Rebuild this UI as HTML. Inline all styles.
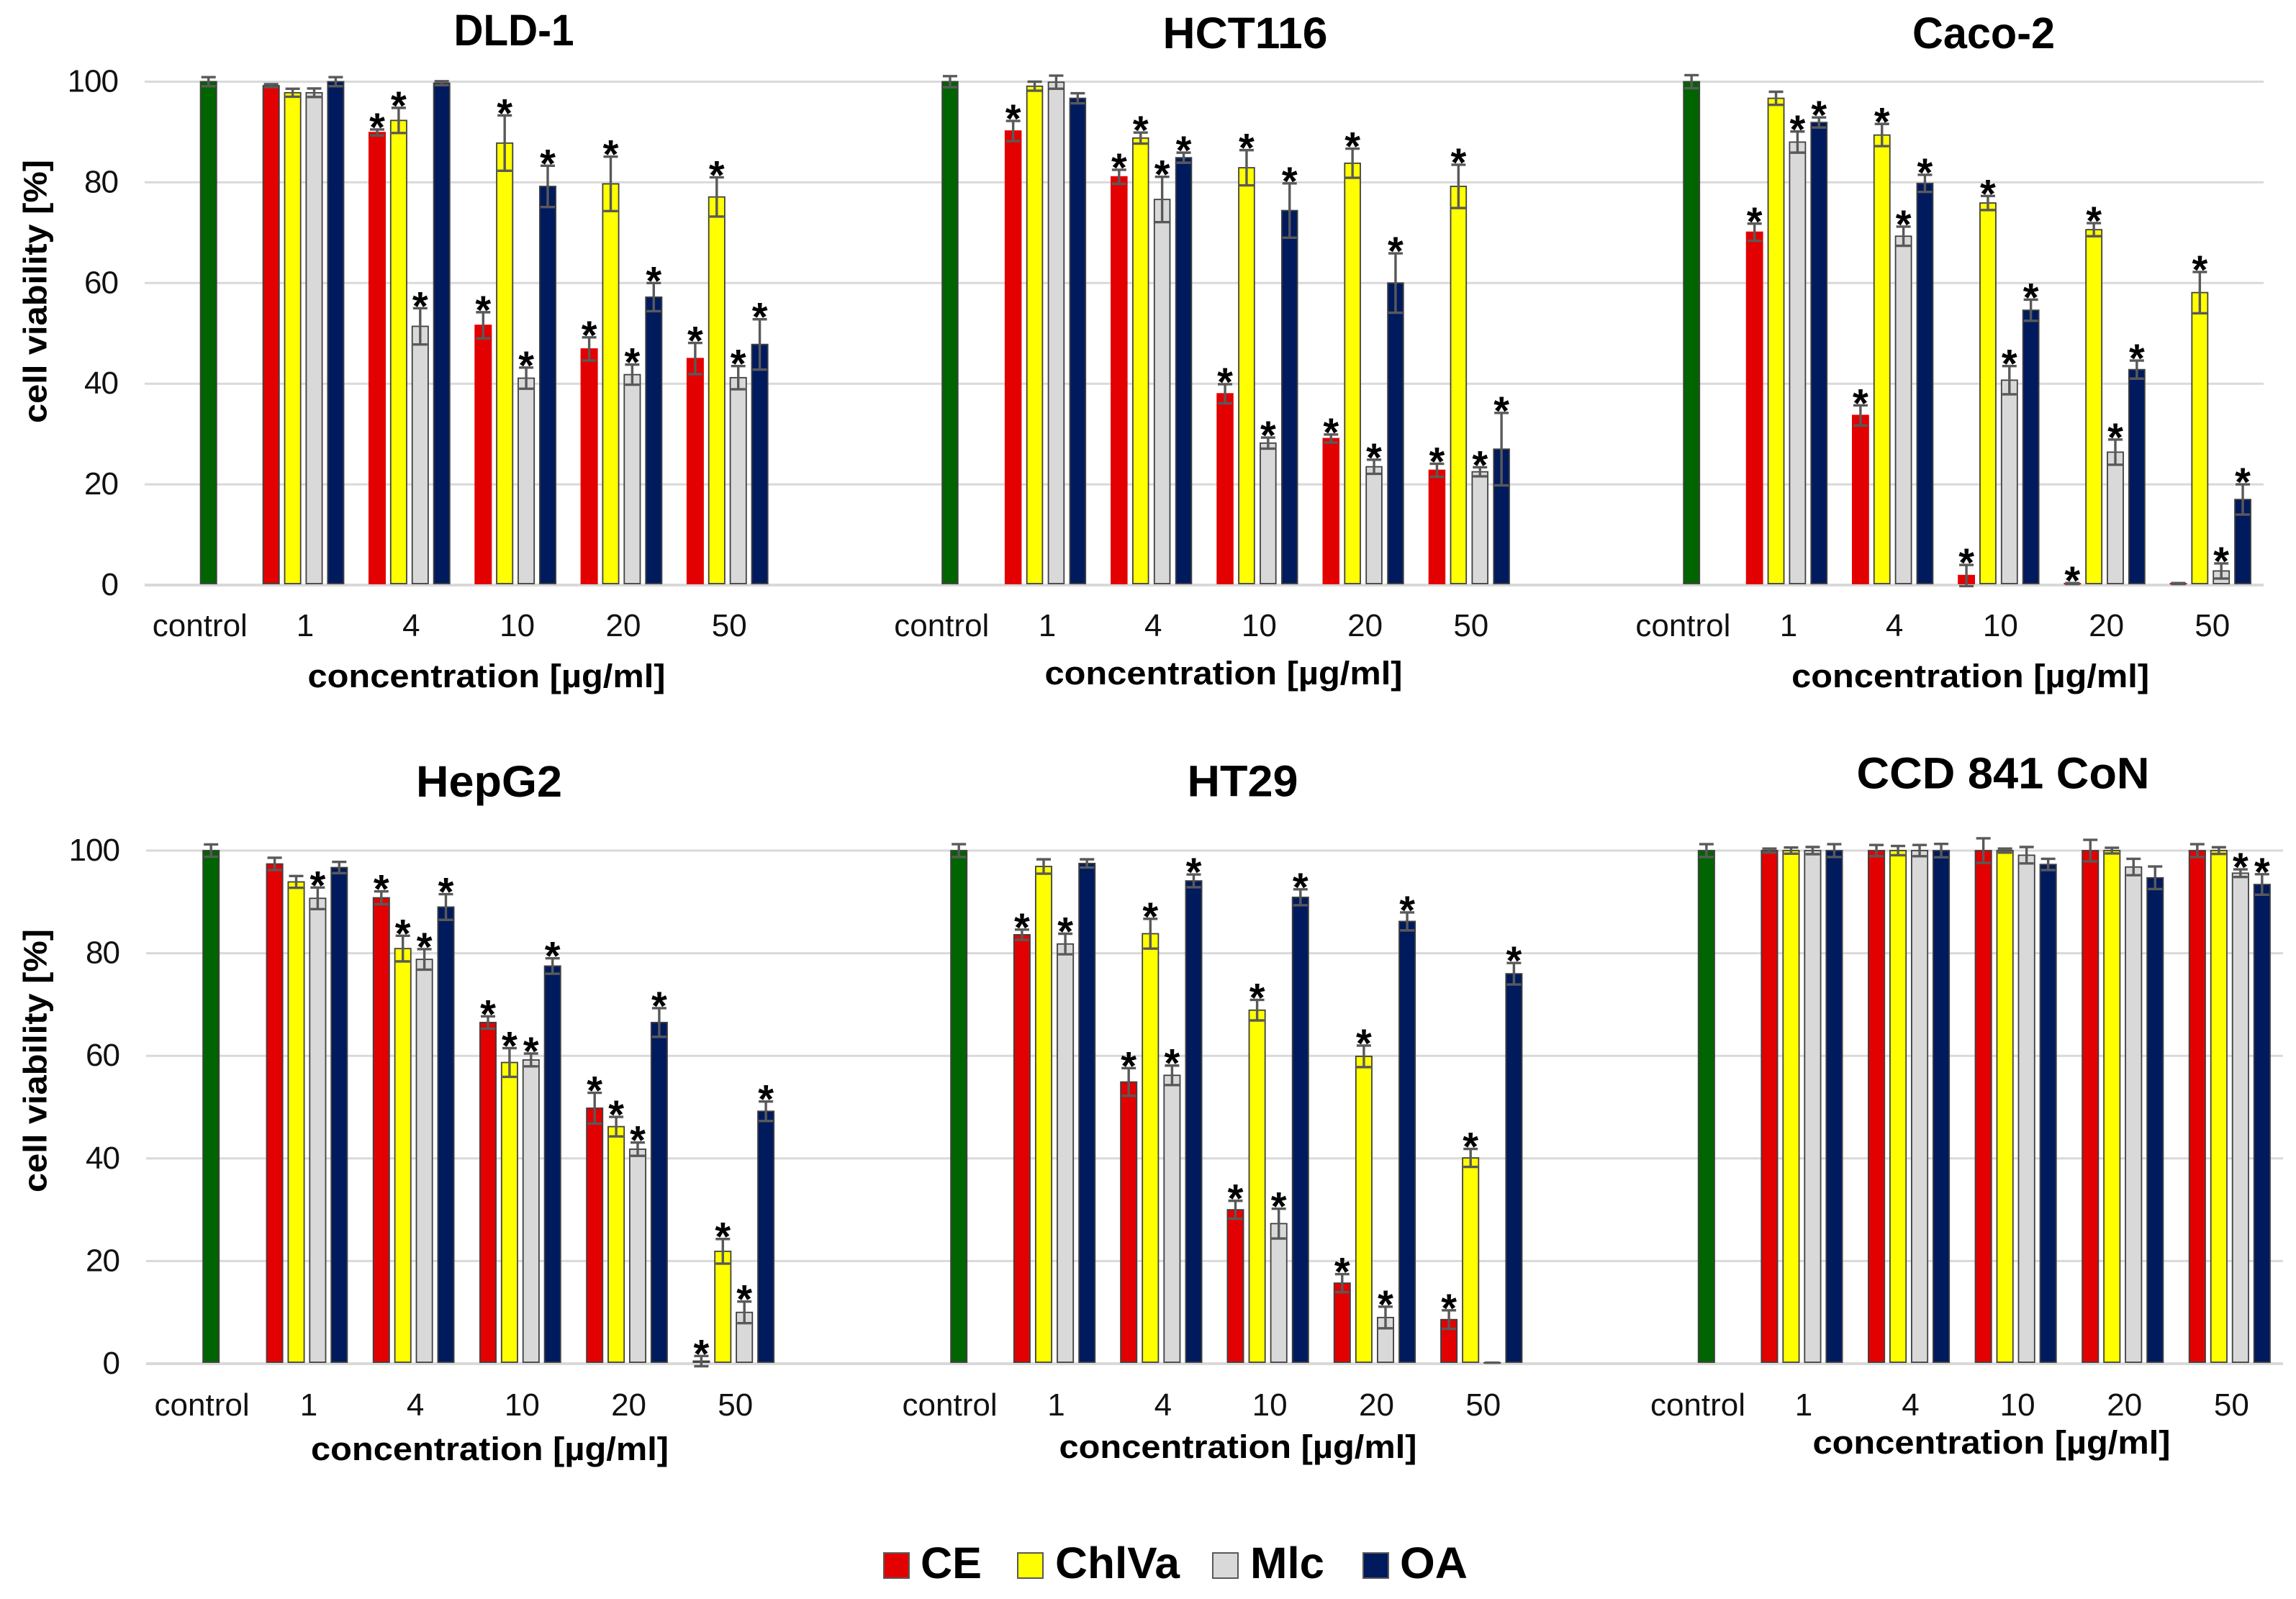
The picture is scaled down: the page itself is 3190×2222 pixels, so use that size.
<!DOCTYPE html>
<html lang="en">
<head>
<meta charset="utf-8">
<title>Cell viability by concentration</title>
<style>
html,body{margin:0;padding:0;background:#fff;width:3190px;height:2222px;overflow:hidden}
svg{display:block}
text{font-family:"Liberation Sans",Arial,sans-serif;fill:#000}
.tick{font-size:44px;fill:#111}
.y-tick{letter-spacing:-1px}
.axis-title{font-size:45px;font-weight:bold}
.panel-title{font-size:61px;font-weight:bold}
.legend-label{font-size:61px;font-weight:bold}
.star{font-size:56px;font-weight:bold}
</style>
</head>
<body>
<svg id="figure" xmlns="http://www.w3.org/2000/svg" width="3190" height="2222" viewBox="0 0 3190 2222">
  <g id="panels"></g>
  <g id="legend">
    <g>
      <rect x="1228" y="2158" width="35" height="35" fill="#E30000" stroke="#595959" stroke-width="2"/>
      <text class="legend-label" x="1279" y="2193" textLength="85" lengthAdjust="spacingAndGlyphs">CE</text>
    </g>
    <g>
      <rect x="1414" y="2158" width="35" height="35" fill="#FFFF00" stroke="#595959" stroke-width="2"/>
      <text class="legend-label" x="1466" y="2193" textLength="173" lengthAdjust="spacingAndGlyphs">ChlVa</text>
    </g>
    <g>
      <rect x="1685" y="2158" width="35" height="35" fill="#D9D9D9" stroke="#595959" stroke-width="2"/>
      <text class="legend-label" x="1737" y="2193" textLength="103" lengthAdjust="spacingAndGlyphs">Mlc</text>
    </g>
    <g>
      <rect x="1894" y="2158" width="35" height="35" fill="#001A5E" stroke="#595959" stroke-width="2"/>
      <text class="legend-label" x="1945" y="2193" textLength="94" lengthAdjust="spacingAndGlyphs">OA</text>
    </g>
  </g>
</svg>
<script>
// ---- shared categories and tick labels ----
const doseLabels = ['1', '4', '10', '20', '50'];
const controlLabel = 'control';
const yTickValues = [0, 20, 40, 60, 80, 100];
const seriesNames = ['CE', 'ChlVa', 'Mlc', 'OA'];

// ---- values: rows = CE, ChlVa, Mlc, OA; columns = 1, 4, 10, 20, 50 ----
const dld1Control = [100, 0.9];
const dld1Means = [
  [99.2, 89.9, 51.6, 46.9, 45],
  [97.8, 92.3, 87.8, 79.7, 77.1],
  [97.8, 51.4, 41.1, 41.8, 41.2],
  [100, 99.7, 79.2, 57.2, 47.8]];
const dld1Errors = [
  [0.3, 0.6, 2.6, 2.3, 3.1],
  [0.8, 2.5, 5.5, 5.4, 3.9],
  [0.85, 3.6, 2.1, 2, 2.3],
  [0.9, 0.4, 4.1, 2.8, 5]];
const dld1Stars = [
  [0, 1, 1, 1, 1],
  [0, 1, 1, 1, 1],
  [0, 1, 1, 1, 1],
  [0, 0, 1, 1, 1]];

const hct116Control = [100, 1.1];
const hct116Means = [
  [90.2, 81.1, 38, 29.1, 22.8],
  [99.1, 88.8, 82.9, 83.8, 79.2],
  [99.9, 76.6, 28.2, 23.5, 22.5],
  [96.7, 84.9, 74.4, 60, 27]];
const hct116Errors = [
  [2, 1.4, 1.9, 0.8, 1.3],
  [0.9, 1.1, 3.5, 2.9, 4.3],
  [1.3, 4.5, 1.1, 1.4, 0.9],
  [1, 1, 5.4, 5.9, 7.2]];
const hct116Stars = [
  [1, 1, 1, 1, 1],
  [0, 1, 1, 1, 1],
  [0, 1, 1, 1, 1],
  [0, 1, 1, 1, 1]];

const caco2Control = [100, 1.3];
const caco2Means = [
  [70.1, 33.7, 1.9, 0.3, 0.3],
  [96.7, 89.4, 75.9, 70.6, 58.1],
  [88, 69.3, 40.7, 26.4, 2.8],
  [91.9, 79.8, 54.6, 42.8, 17]];
const caco2Errors = [
  [1.7, 2, 2.1, 0.1, 0.1],
  [1.3, 2.2, 1.4, 1.3, 4.1],
  [2.1, 1.9, 2.8, 2.5, 1.5],
  [1, 1.7, 2.1, 1.8, 3]];
const caco2Stars = [
  [1, 1, 1, 1, 0],
  [0, 1, 1, 1, 1],
  [1, 1, 1, 1, 1],
  [1, 1, 1, 1, 1]];

const hepg2Control = [100, 1.2];
const hepg2Means = [
  [97.4, 90.8, 66.5, 49.8, 0.5],
  [93.9, 80.9, 58.7, 46.2, 21.9],
  [90.7, 78.8, 59.2, 41.8, 10],
  [96.7, 89, 77.5, 66.5, 49.2]];
const hepg2Errors = [
  [1.2, 1.25, 1.2, 3, 1],
  [1.15, 2.5, 2.8, 1.9, 2.4],
  [2.1, 2, 1.25, 1.3, 2.1],
  [1.1, 2.5, 1.5, 2.8, 1.9]];
const hepg2Stars = [
  [0, 1, 1, 1, 1],
  [0, 1, 1, 1, 1],
  [1, 1, 1, 1, 1],
  [0, 1, 1, 1, 1]];

const ht29Control = [100, 1.25];
const ht29Means = [
  [83.6, 54.9, 30, 15.7, 8.6],
  [96.9, 83.8, 68.9, 59.9, 40.1],
  [81.8, 56.2, 27.3, 9, 0.2],
  [97.5, 94.1, 90.9, 86.2, 76]];
const ht29Errors = [
  [1, 2.7, 1.75, 1.75, 1.8],
  [1.4, 2.9, 2, 2.1, 1.75],
  [2, 1.9, 2.9, 2.1, 0],
  [0.8, 1.25, 1.55, 1.75, 2.1]];
const ht29Stars = [
  [1, 1, 1, 1, 1],
  [0, 1, 1, 1, 1],
  [1, 1, 1, 1, 0],
  [0, 1, 1, 1, 1]];

const ccdControl = [100, 1.25];
const ccdMeans = [
  [100, 100, 100, 100, 100],
  [100, 100, 100, 100, 100],
  [100, 100, 99.1, 96.8, 95.6],
  [100, 100, 97.3, 94.7, 93.4]];
const ccdErrors = [
  [0.4, 1.1, 2.4, 2.1, 1.25],
  [0.6, 0.9, 0.4, 0.55, 0.65],
  [0.7, 1.1, 1.6, 1.6, 0.75],
  [1.25, 1.3, 1.1, 2.2, 2]];
const ccdStars = [
  [0, 0, 0, 0, 0],
  [0, 0, 0, 0, 0],
  [0, 0, 0, 0, 1],
  [0, 0, 0, 0, 1]];

// ---- styling ----
const seriesFill = ['#E30000', '#FFFF00', '#D9D9D9', '#001A5E'];
const controlFill = '#006400';
const gridColor = '#D9D9D9';
const errorColor = '#595959';

// ---- panel layout ----
const panelLayouts = [
  {key:'dld-1', title:'DLD-1', control:dld1Control, means:dld1Means, errors:dld1Errors, stars:dld1Stars,
   gridL:201, gridR:1100, y0:813, y100:113.5, ctrlBar:277.8, ctrlLabel:277.8, red:364.8, barStep:29.9, groupStep:147.3, barW:23.8,
   redEdge:1, tickBase:884, showY:true, yTitleY:405, titleX:714, titleBase:63, titleW:167, xTitleX:676, xTitleBase:955},
  {key:'hct116', title:'HCT116', control:hct116Control, means:hct116Means, errors:hct116Errors, stars:hct116Stars,
   gridL:1100, gridR:2150, y0:813, y100:113.5, ctrlBar:1308.3, ctrlLabel:1308.3, red:1396, barStep:29.9, groupStep:147.2, barW:23.3,
   redEdge:0, tickBase:884, showY:false, titleX:1730, titleBase:67, titleW:229, xTitleX:1700, xTitleBase:951},
  {key:'caco-2', title:'Caco-2', control:caco2Control, means:caco2Means, errors:caco2Errors, stars:caco2Stars,
   gridL:2150, gridR:3145, y0:813, y100:113.5, ctrlBar:2338.4, ctrlLabel:2338.4, red:2425.9, barStep:29.85, groupStep:147.2, barW:23.6,
   redEdge:0, tickBase:884, showY:false, titleX:2756, titleBase:67, titleW:198, xTitleX:2737.6, xTitleBase:955},
  {key:'hepg2', title:'HepG2', control:hepg2Control, means:hepg2Means, errors:hepg2Errors, stars:hepg2Stars,
   gridL:203, gridR:1100, y0:1895, y100:1182, ctrlBar:281.3, ctrlLabel:280.6, red:369.7, barStep:29.9, groupStep:148.2, barW:23.8,
   redEdge:5, tickBase:1967, showY:true, yTitleY:1474, titleX:679.5, titleBase:1107, titleW:203, xTitleX:680.5, xTitleBase:2029},
  {key:'ht29', title:'HT29', control:ht29Control, means:ht29Means, errors:ht29Errors, stars:ht29Stars,
   gridL:1100, gridR:2150, y0:1895, y100:1182, ctrlBar:1320.3, ctrlLabel:1319.6, red:1408, barStep:30.1, groupStep:148.3, barW:23.8,
   redEdge:5, tickBase:1967, showY:false, titleX:1726.5, titleBase:1106.5, titleW:154, xTitleX:1720, xTitleBase:2026},
  {key:'ccd-841-con', title:'CCD 841 CoN', control:ccdControl, means:ccdMeans, errors:ccdErrors, stars:ccdStars,
   gridL:2150, gridR:3172, y0:1895, y100:1182, ctrlBar:2358.9, ctrlLabel:2359, red:2446.5, barStep:30, groupStep:148.6, barW:23.9,
   redEdge:5, tickBase:1967, showY:false, titleX:2783, titleBase:1095.5, titleW:407, xTitleX:2767, xTitleBase:2020}
];

const NS = 'http://www.w3.org/2000/svg';
const root = document.getElementById('panels');

function make(tag, parent, attrs, text) {
  const el = document.createElementNS(NS, tag);
  for (const k in attrs) el.setAttribute(k, attrs[k]);
  if (text !== undefined) el.textContent = text;
  parent.appendChild(el);
  return el;
}

function yScale(p, v) {
  return p.y0 - v * (p.y0 - p.y100) / 100;
}

function barLeft(p, groupIndex, seriesIndex) {
  return p.red + groupIndex * p.groupStep + seriesIndex * p.barStep;
}

function drawBar(p, g, left, value, fill, edge) {
  const top = yScale(p, value);
  const bar = make('rect', g, {
    x: left + 0.8, y: top, width: p.barW - 1.6, height: Math.max(p.y0 - 2 - top, 0.5),
    fill: fill,
    stroke: edge ? '#404040' : fill,
    'stroke-width': 1.8
  });
  
  
}

function drawError(p, g, cx, value, err) {
  const hi = yScale(p, value + err);
  const lo = yScale(p, value - err);
  const eb = make('path', g, {
    d: 'M' + (cx - 10) + ' ' + hi + 'H' + (cx + 10) +
       'M' + (cx - 10) + ' ' + lo + 'H' + (cx + 10) +
       'M' + cx + ' ' + hi + 'V' + lo,
    fill: 'none', stroke: errorColor, 'stroke-width': 3.4
  });
  
  
}

function drawStar(p, g, cx, value, err) {
  const star = make('text', g, {
    class: 'star', x: cx, y: yScale(p, value + err) + 16, 'text-anchor': 'middle'
  }, '*');
  
  
}

panelLayouts.forEach(function (p) {
  const panel = make('g', root, {});
  
  

  const grid = make('g', panel, {});
  
  
  yTickValues.forEach(function (t) {
    const y = yScale(p, t);
    const line = make('line', grid, {
      x1: p.gridL, x2: p.gridR, y1: y, y2: y,
      stroke: gridColor, 'stroke-width': t === 0 ? 4 : 3
    });
    
    
    if (p.showY) {
      const label = make('text', panel, {
        class: 'tick y-tick', x: p.gridL - 37, y: y + 14, 'text-anchor': 'end'
      }, String(t));
      
      
    }
  });

  const marks = make('g', panel, {});
  
  
  drawBar(p, marks, p.ctrlBar, p.control[0], controlFill, true);
  drawError(p, marks, p.ctrlBar + p.barW / 2, p.control[0], p.control[1]);

  seriesNames.forEach(function (name, s) {
    doseLabels.forEach(function (dose, i) {
      const left = barLeft(p, i, s);
      const edge = s > 0 || i < p.redEdge;
      drawBar(p, marks, left, p.means[s][i], seriesFill[s], edge);
    });
  });
  seriesNames.forEach(function (name, s) {
    doseLabels.forEach(function (dose, i) {
      const cx = barLeft(p, i, s) + p.barW / 2;
      drawError(p, marks, cx, p.means[s][i], p.errors[s][i]);
      if (p.stars[s][i]) drawStar(p, marks, cx, p.means[s][i], p.errors[s][i]);
    });
  });

  const ctrl = make('text', panel, {
    class: 'tick', x: p.ctrlLabel, y: p.tickBase, 'text-anchor': 'middle'
  }, controlLabel);
  
  
  doseLabels.forEach(function (dose, i) {
    const cx = barLeft(p, i, 0) + (p.barStep * 3 + p.barW) / 2 + 2.5;
    const tick = make('text', panel, {
      class: 'tick', x: cx, y: p.tickBase, 'text-anchor': 'middle'
    }, dose);
    
    
  });

  const title = make('text', panel, {
    class: 'panel-title', x: p.titleX, y: p.titleBase, 'text-anchor': 'middle',
    textLength: p.titleW, lengthAdjust: 'spacingAndGlyphs'
  }, p.title);
  
  

  const xTitle = make('text', panel, {
    class: 'axis-title', x: p.xTitleX, y: p.xTitleBase, 'text-anchor': 'middle',
    textLength: 497, lengthAdjust: 'spacingAndGlyphs'
  }, 'concentration [\u00B5g/ml]');
  
  

  if (p.showY) {
    const yTitle = make('text', panel, {
      class: 'axis-title', x: 0, y: 0, 'text-anchor': 'middle',
      transform: 'translate(64.5 ' + p.yTitleY + ') rotate(-90)',
      textLength: 366, lengthAdjust: 'spacingAndGlyphs'
    }, 'cell viability [%]');
    
    
  }
});
</script>
</body>
</html>
